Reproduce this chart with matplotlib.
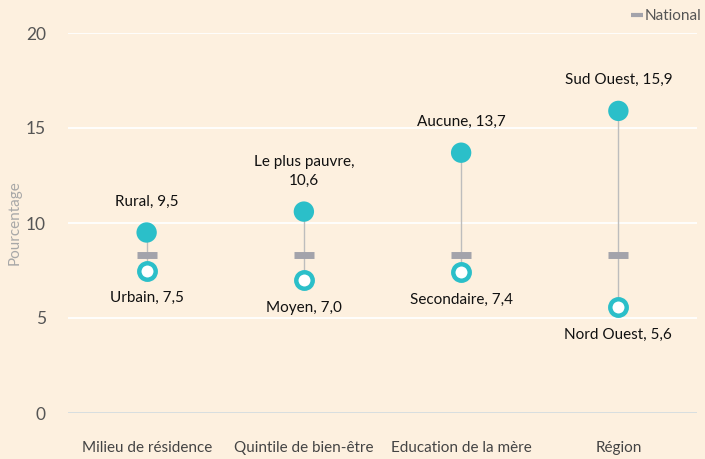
import numpy as np
import matplotlib
matplotlib.use("Agg")
import matplotlib.pyplot as plt
from matplotlib.lines import Line2D

categories = ["Milieu de résidence", "Quintile de bien-être", "Education de la mère", "Région"]
high_vals = [9.5, 10.6, 13.7, 15.9]
high_labels = ["Rural, 9,5", "Le plus pauvre,\n10,6", "Aucune, 13,7", "Sud Ouest, 15,9"]
low_vals = [7.5, 7.0, 7.4, 5.6]
low_labels = ["Urbain, 7,5", "Moyen, 7,0", "Secondaire, 7,4", "Nord Ouest, 5,6"]
national = 8.3

bg = "#fdf0df"
teal = "#2bbfc9"
plt.rcParams['font.family'] = ['Lato', 'DejaVu Sans']

fig = plt.figure(figsize=(7.05, 4.59), dpi=100, facecolor=bg)
ax = fig.add_axes([68/705, (459-413)/459, (697-68)/705, 380/459])
ax.set_facecolor(bg)

x = np.arange(len(categories))
ax.set_xlim(-0.5, len(categories) - 0.5)
ax.set_ylim(0, 20)

for y in [5, 10, 15, 20]:
    ax.axhline(y, color="white", lw=1.3, zorder=0)
ax.axhline(0, color="#d5dde0", lw=1.3, zorder=0)

for i in x:
    ax.plot([i, i], [low_vals[i], high_vals[i]], color="#bdbdbd", lw=1, zorder=1)

ax.scatter(x, [national] * len(x), marker="_", s=220, linewidths=5, color="#a3a3ab", zorder=2)
ax.scatter(x, high_vals, s=215, color=teal, edgecolors="none", zorder=3)
ax.scatter(x, low_vals, s=140, color="white", edgecolors=teal, linewidths=3.2, zorder=3)

for i in x:
    ax.annotate(high_labels[i], (i, high_vals[i]), xytext=(0, 17), textcoords="offset points",
                ha="center", va="bottom", fontsize=11, color="#111111", linespacing=1.45)
    ax.annotate(low_labels[i], (i, low_vals[i]), xytext=(0, -15), textcoords="offset points",
                ha="center", va="top", fontsize=11, color="#111111")

ax.set_xticks(x)
ax.set_xticklabels(categories, fontsize=11, color="#444444")
ax.set_yticks([0, 5, 10, 15, 20])
ax.set_yticklabels(["0", "5", "10", "15", "20"], fontsize=12.5, color="#555555")
ax.tick_params(length=0)
ax.tick_params(axis="x", pad=20)
ax.tick_params(axis="y", pad=16)
for s in ax.spines.values():
    s.set_visible(False)

ax.set_ylabel("Pourcentage", fontsize=11, color="#a8a8a8")
ax.yaxis.set_label_coords(-0.073, 0.5)

handle = Line2D([], [], marker="_", markersize=8, markeredgewidth=3, color="#a3a3ab", linestyle="none")
fig.legend([handle], ["National"], loc="upper right", bbox_to_anchor=(1.015, 1.01),
           frameon=False, fontsize=11, handlelength=0.6, handletextpad=0.2, labelcolor="#555555")

fig.savefig("out.png", dpi=100, facecolor=bg)
